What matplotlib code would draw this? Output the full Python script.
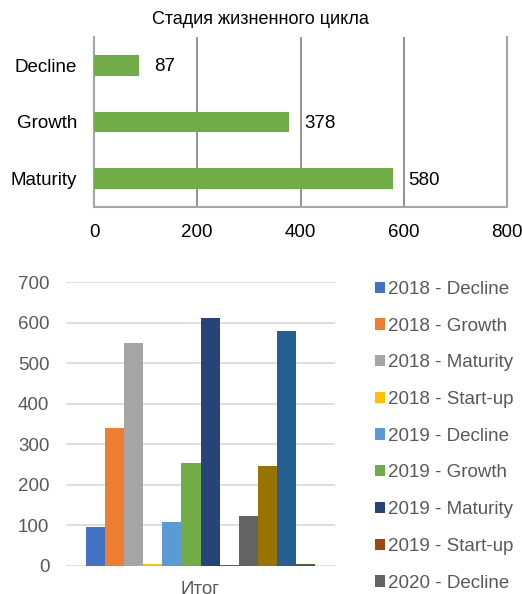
import numpy as np
import matplotlib.pyplot as plt

plt.rcParams['font.family'] = ['Liberation Sans', 'DejaVu Sans']

# top chart: life-cycle stage totals
stages = ['Maturity', 'Growth', 'Decline']
stage_vals = [580, 378, 87]
top_title = 'Стадия жизненного цикла'

# bottom chart: year - stage breakdown
series = ['2018 - Decline', '2018 - Growth', '2018 - Maturity', '2018 - Start-up',
          '2019 - Decline', '2019 - Growth', '2019 - Maturity', '2019 - Start-up',
          '2020 - Decline', '2020 - Growth', '2020 - Maturity', '2020 - Start-up']
series_vals = [95, 340, 550, 5, 109, 254, 612, 2, 123, 247, 580, 5]
colors = ['#4472C4', '#ED7D31', '#A5A5A5', '#FFC000',
          '#5B9BD5', '#70AD47', '#264478', '#9E480E',
          '#636363', '#997300', '#255E91', '#43682B']
category = 'Итог'

fs = 13.5
fig = plt.figure(figsize=(5.22, 5.94), dpi=100)

#---------------- top chart
ax1 = fig.add_axes([94/522, 1-207/594, 413/522, 170/594])
y = np.arange(len(stages))
ax1.barh(y, stage_vals, height=0.37, color='#70AD47', zorder=3)
ax1.set_xlim(0, 800)
ax1.set_ylim(-0.5, 2.5)
ax1.set_xticks([0, 200, 400, 600, 800])
ax1.set_yticks(y)
ax1.set_yticklabels(stages, fontsize=fs)
ax1.tick_params(axis='x', labelsize=fs, length=0, pad=12)
ax1.tick_params(axis='y', length=0, pad=12)
ax1.xaxis.grid(True, color='#808080', lw=1.2, zorder=0)
ax1.spines['top'].set_visible(False)
for s in ['left', 'bottom', 'right']:
    ax1.spines[s].set_color('#a6a6a6')
    ax1.spines[s].set_linewidth(1.5)
for yi, v in zip(y, stage_vals):
    ax1.annotate(str(v), (v, yi), xytext=(11, -1), textcoords='offset points',
                 va='center', ha='left', fontsize=fs)
fig.text(260/522, 1-20/594, top_title, ha='center', va='center', fontsize=13)

#---------------- bottom chart
ax2 = fig.add_axes([66/522, 1-566/594, 269/522, 283.7/594])
n = len(series)
x = np.arange(n)
bars = ax2.bar(x, series_vals, width=1.0, color=colors, zorder=3)
ax2.set_xlim(-1.55, n - 1 + 1.55)
ax2.set_ylim(0, 700)
ax2.set_yticks(range(0, 701, 100))
ax2.set_xticks([(n - 1) / 2])
ax2.set_xticklabels([category])
ax2.tick_params(length=0, labelsize=fs, labelcolor='#595959')
ax2.tick_params(axis='y', pad=12)
ax2.tick_params(axis='x', pad=11)
ax2.yaxis.grid(True, color='#d9d9d9', lw=1.2, zorder=0)
for s in ax2.spines.values():
    s.set_visible(False)

fig.legend(bars, series, loc='upper left', bbox_to_anchor=(375/522, 1-281/594),
           frameon=False, fontsize=fs, labelcolor='#595959',
           handlelength=0.55, handleheight=0.55, handletextpad=0.16,
           labelspacing=1.05, borderaxespad=0, borderpad=0)

fig.savefig('out.png', dpi=100)
